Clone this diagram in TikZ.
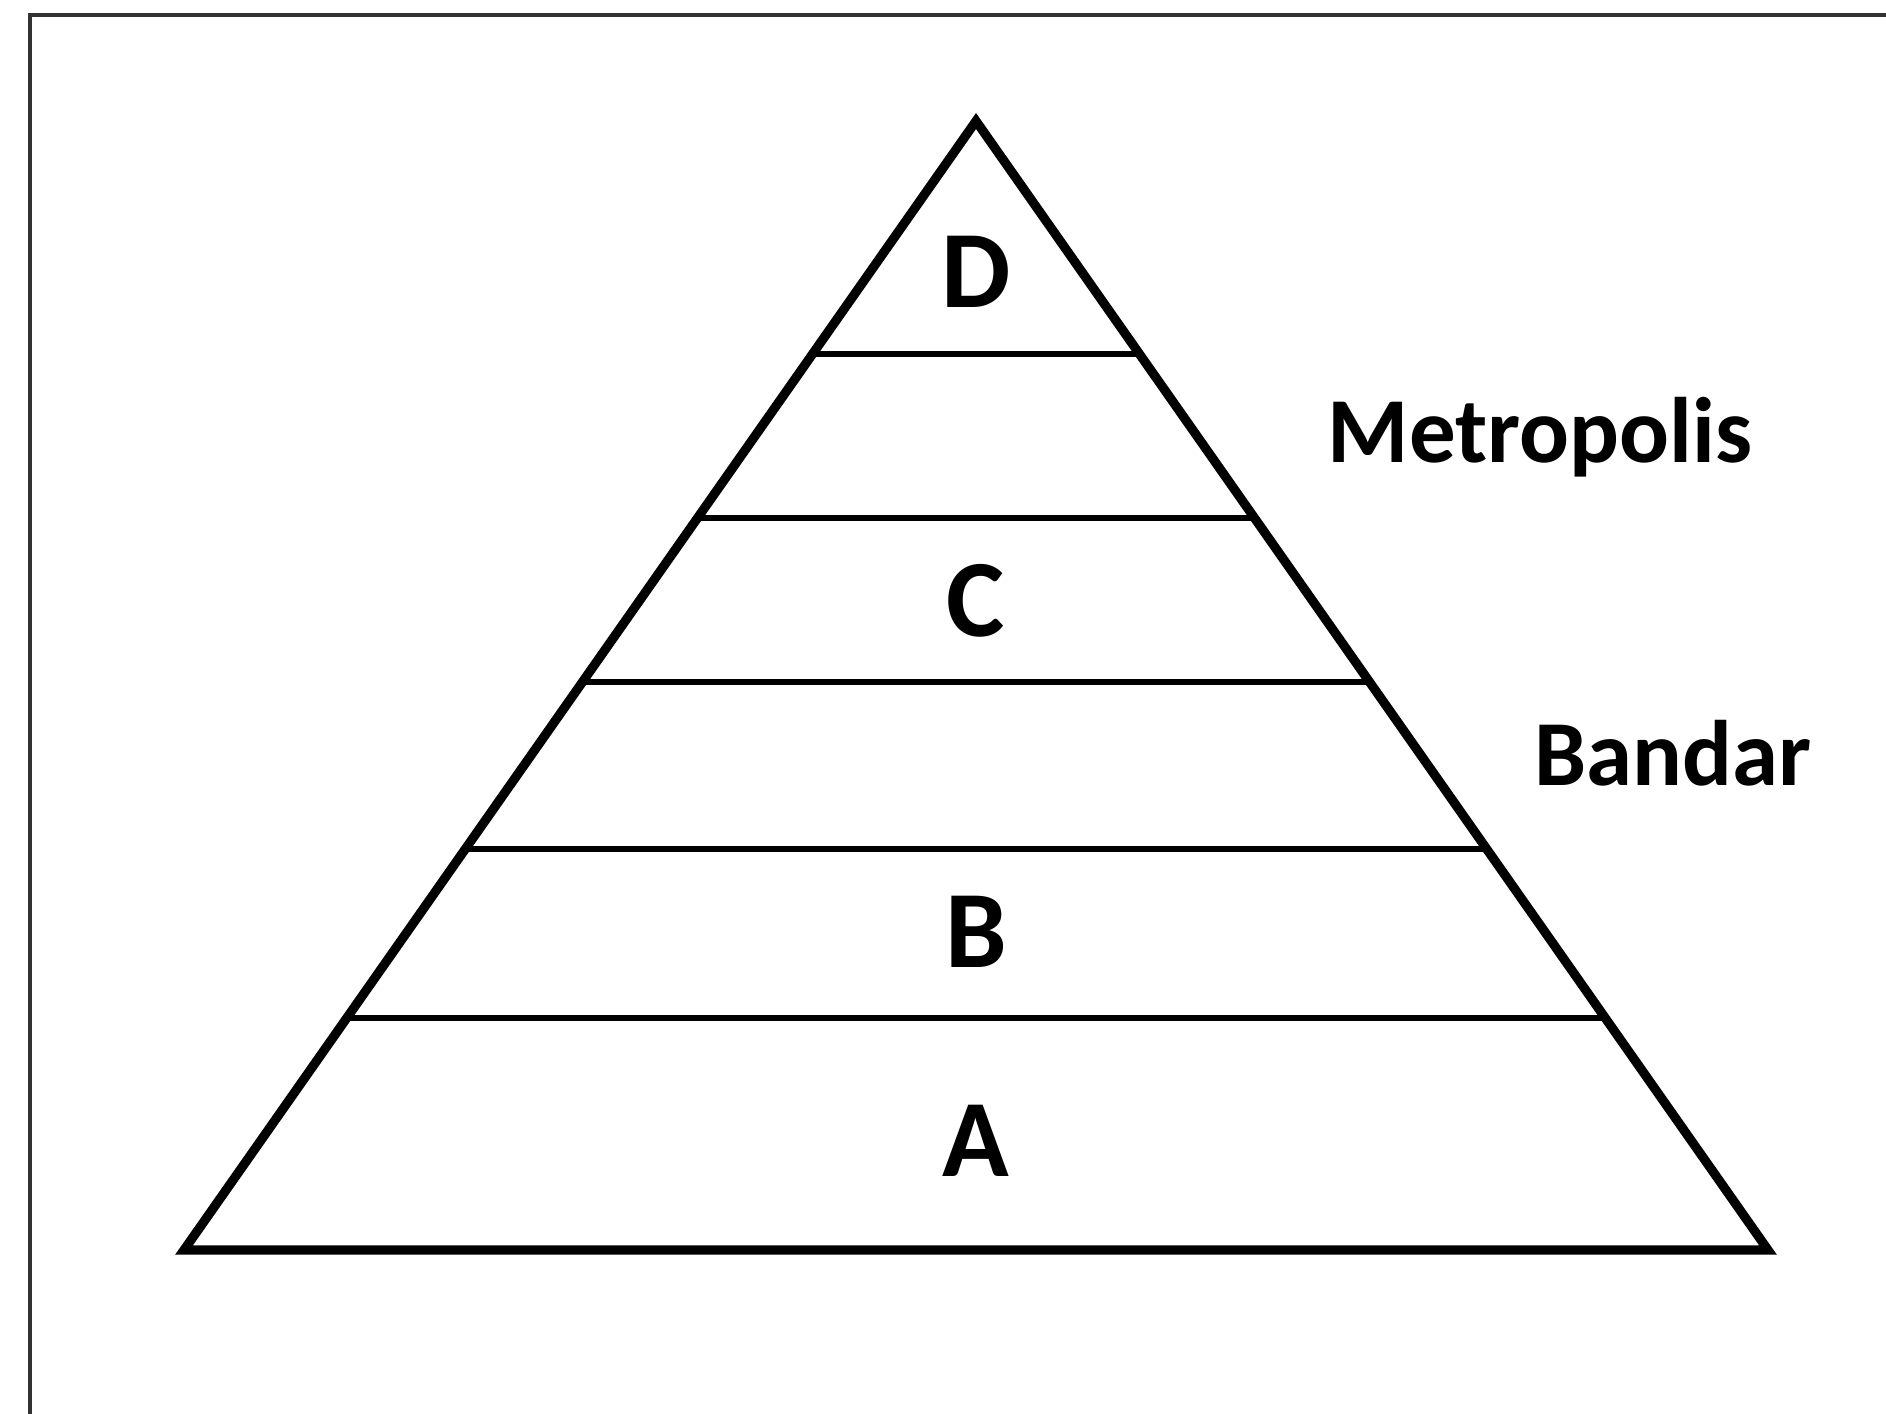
\documentclass[tikz,border=0pt]{standalone}
\usepackage{fontspec}
\setmainfont{Carlito}
\begin{document}
\begin{tikzpicture}[x=0.5pt,y=-0.5pt,
  frameline/.style={draw=black!80,line width=2.2pt},
  outline/.style={draw=black,line width=4.6pt,line join=miter},
  tier/.style={draw=black,line width=3.4pt},
  lvl/.style={font=\fontsize{55}{60}\selectfont\bfseries,inner sep=0pt,anchor=base},
  lbl/.style={font=\fontsize{46.5}{54}\selectfont\bfseries,inner sep=0pt,anchor=base}]
\useasboundingbox (0,0) rectangle (1886,1414);
\fill[white] (0,0) rectangle (1886,1414);
% frame (only top and left edges visible)
\coordinate (fTL) at (30,15);
\coordinate (fTR) at (1886,15);
\coordinate (fBL) at (30,1414);
\draw[frameline] (fBL) -- (fTL) -- (fTR);
% pyramid
\coordinate (apex) at (976,121);
\coordinate (bl) at (184,1250);
\coordinate (br) at (1768,1250);
\draw[outline] (apex) -- (bl) -- (br) -- cycle;
% tiers: x on side = 976 -/+ k*(y-121), k = 792/1129
\foreach \n/\y in {1/354,2/518,3/682,4/849,5/1018}{
  \pgfmathsetmacro{\dx}{792/1129*(\y-121)}
  \coordinate (l\n) at ({976-\dx},\y);
  \coordinate (r\n) at ({976+\dx},\y);
  \draw[tier] (l\n) -- (r\n);
}
% level letters
\node[lvl] (D) at (976,307) {D};
\node[lvl] (C) at (976,636) {C};
\node[lvl] (B) at (976,967) {B};
\node[lvl] (A) at (976,1176) {A};
% side labels
\node[lbl] (metro) at (1540,462) {Metropolis};
\node[lbl] (bandar) at (1673,785) {Bandar};
\end{tikzpicture}
\end{document}
